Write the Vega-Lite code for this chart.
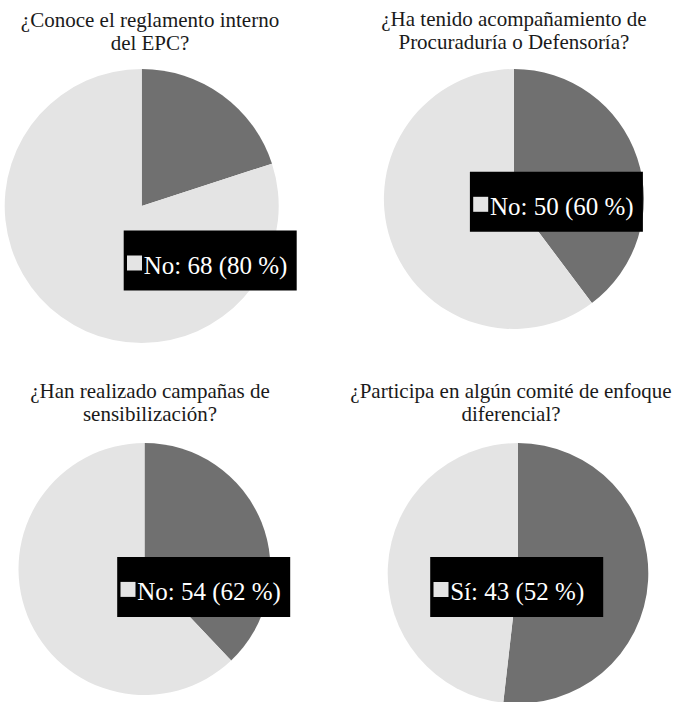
{
  "$schema": "https://vega.github.io/schema/vega-lite/v6.json",
  "background": "white",
  "padding": {"left": 0, "top": 9, "right": 0, "bottom": 0},
  "config": {
    "view": {"stroke": null},
    "title": {"font": "Liberation Serif", "fontSize": 21, "fontWeight": "normal", "color": "#1a1a1a", "lineHeight": 23, "baseline": "alphabetic", "anchor": "middle"}
  },
  "data": {"values": [
    {"q": "p1", "cat": "Sí", "n": 17, "hover": false, "label": "Sí: 17 (20 %)"},
    {"q": "p1", "cat": "No", "n": 68, "hover": true, "label": "No: 68 (80 %)"},
    {"q": "p2", "cat": "Sí", "n": 33, "hover": false, "label": "Sí: 33 (40 %)"},
    {"q": "p2", "cat": "No", "n": 50, "hover": true, "label": "No: 50 (60 %)"},
    {"q": "p3", "cat": "Sí", "n": 33, "hover": false, "label": "Sí: 33 (38 %)"},
    {"q": "p3", "cat": "No", "n": 54, "hover": true, "label": "No: 54 (62 %)"},
    {"q": "p4", "cat": "Sí", "n": 43, "hover": true, "label": "Sí: 43 (52 %)"},
    {"q": "p4", "cat": "No", "n": 40, "hover": false, "label": "No: 40 (48 %)"}
  ]},
  "spacing": 38,
  "vconcat": [
    {
      "bounds": "flush",
      "spacing": 89.9,
      "hconcat": [
        {
          "width": 283.4, "height": 274,
          "title": {"text": ["¿Conoce el reglamento interno", "del EPC?"], "offset": 15, "dx": 8.3},
          "transform": [{"filter": "datum.q === 'p1'"}],
          "layer": [
            {"mark": {"type": "arc", "strokeWidth": 0}, "encoding": {"theta": {"field": "n", "type": "quantitative", "stack": true}, "color": {"field": "cat", "type": "nominal", "scale": {"domain": ["Sí", "No"], "range": ["#707070", "#e4e4e4"]}, "legend": null}, "order": {"field": "cat", "sort": "descending"}}},
            {"transform": [{"filter": "datum.hover"}], "mark": {"type": "point", "shape": "M-1,-0.347H1V0.347H-1Z", "size": 29929, "filled": true, "color": "black", "opacity": 1, "xOffset": 68.5, "yOffset": 54.5}, "encoding": {}},
            {"transform": [{"filter": "datum.hover"}], "mark": {"type": "point", "shape": "square", "size": 225, "filled": true, "color": "#e4e4e4", "opacity": 1, "xOffset": -7.2, "yOffset": 57}, "encoding": {}},
            {"transform": [{"filter": "datum.hover"}], "mark": {"type": "text", "font": "Liberation Serif", "fontSize": 25, "color": "white", "align": "left", "baseline": "alphabetic", "dx": 2, "dy": 67.5}, "encoding": {"text": {"field": "label"}}}
          ]
        },
        {
          "width": 280, "height": 260,
          "title": {"text": ["¿Ha tenido acompañamiento de", "Procuraduría o Defensoría?"], "offset": 16, "dx": 0},
          "transform": [{"filter": "datum.q === 'p2'"}],
          "layer": [
            {"mark": {"type": "arc", "strokeWidth": 0}, "encoding": {"theta": {"field": "n", "type": "quantitative", "stack": true}, "color": {"field": "cat", "type": "nominal", "scale": {"domain": ["Sí", "No"], "range": ["#707070", "#e4e4e4"]}, "legend": null}, "order": {"field": "cat", "sort": "descending"}}},
            {"transform": [{"filter": "datum.hover"}], "mark": {"type": "point", "shape": "M-1,-0.347H1V0.347H-1Z", "size": 29929, "filled": true, "color": "black", "opacity": 1, "xOffset": 42.5, "yOffset": 2.8}, "encoding": {}},
            {"transform": [{"filter": "datum.hover"}], "mark": {"type": "point", "shape": "square", "size": 225, "filled": true, "color": "#e4e4e4", "opacity": 1, "xOffset": -33.2, "yOffset": 5.3}, "encoding": {}},
            {"transform": [{"filter": "datum.hover"}], "mark": {"type": "text", "font": "Liberation Serif", "fontSize": 25, "color": "white", "align": "left", "baseline": "alphabetic", "dx": -24, "dy": 15.8}, "encoding": {"text": {"field": "label"}}}
          ]
        }
      ]
    },
    {
      "bounds": "flush",
      "spacing": 89,
      "hconcat": [
        {
          "width": 289, "height": 252,
          "title": {"text": ["¿Han realizado campañas de", "sensibilización?"], "offset": 18, "dx": 5.5},
          "transform": [{"filter": "datum.q === 'p3'"}],
          "layer": [
            {"mark": {"type": "arc", "strokeWidth": 0}, "encoding": {"theta": {"field": "n", "type": "quantitative", "stack": true}, "color": {"field": "cat", "type": "nominal", "scale": {"domain": ["Sí", "No"], "range": ["#707070", "#e4e4e4"]}, "legend": null}, "order": {"field": "cat", "sort": "descending"}}},
            {"transform": [{"filter": "datum.hover"}], "mark": {"type": "point", "shape": "M-1,-0.347H1V0.347H-1Z", "size": 29929, "filled": true, "color": "black", "opacity": 1, "xOffset": 59.2, "yOffset": 17.9}, "encoding": {}},
            {"transform": [{"filter": "datum.hover"}], "mark": {"type": "point", "shape": "square", "size": 225, "filled": true, "color": "#e4e4e4", "opacity": 1, "xOffset": -16.5, "yOffset": 20.4}, "encoding": {}},
            {"transform": [{"filter": "datum.hover"}], "mark": {"type": "text", "font": "Liberation Serif", "fontSize": 25, "color": "white", "align": "left", "baseline": "alphabetic", "dx": -7.3, "dy": 30.9}, "encoding": {"text": {"field": "label"}}}
          ]
        },
        {
          "width": 280, "height": 260.6,
          "title": {"text": ["¿Participa en algún comité de enfoque", "diferencial?"], "offset": 18, "dx": -7},
          "transform": [{"filter": "datum.q === 'p4'"}],
          "layer": [
            {"mark": {"type": "arc", "strokeWidth": 0}, "encoding": {"theta": {"field": "n", "type": "quantitative", "stack": true}, "color": {"field": "cat", "type": "nominal", "scale": {"domain": ["Sí", "No"], "range": ["#707070", "#e4e4e4"]}, "legend": null}, "order": {"field": "cat", "sort": "descending"}}},
            {"transform": [{"filter": "datum.hover"}], "mark": {"type": "point", "shape": "M-1,-0.347H1V0.347H-1Z", "size": 29929, "filled": true, "color": "black", "opacity": 1, "xOffset": -1.3, "yOffset": 13.7}, "encoding": {}},
            {"transform": [{"filter": "datum.hover"}], "mark": {"type": "point", "shape": "square", "size": 225, "filled": true, "color": "#e4e4e4", "opacity": 1, "xOffset": -77, "yOffset": 16.2}, "encoding": {}},
            {"transform": [{"filter": "datum.hover"}], "mark": {"type": "text", "font": "Liberation Serif", "fontSize": 25, "color": "white", "align": "left", "baseline": "alphabetic", "dx": -67.8, "dy": 26.7}, "encoding": {"text": {"field": "label"}}}
          ]
        }
      ]
    }
  ]
}
